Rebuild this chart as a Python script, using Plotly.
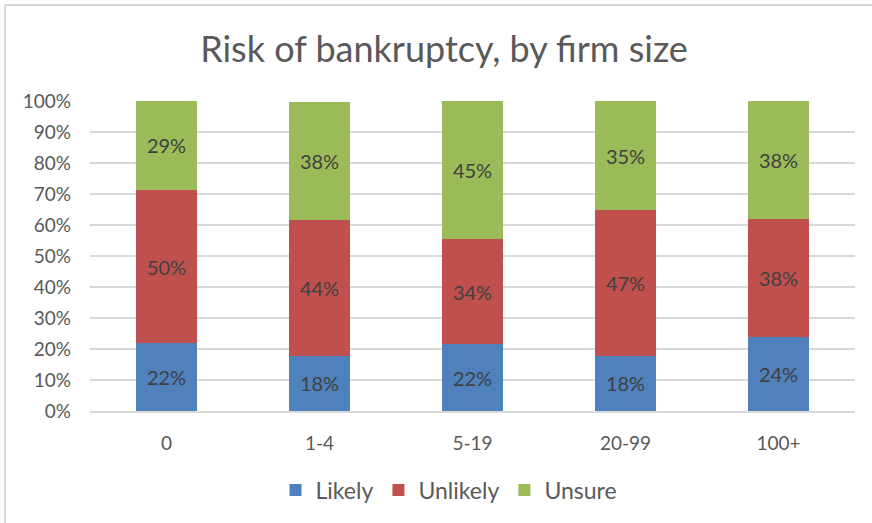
import plotly.graph_objects as go

categories = ["0", "1-4", "5-19", "20-99", "100+"]
likely = [21.8, 17.9, 21.6, 17.9, 23.8]
unlikely = [49.6, 43.6, 33.8, 46.9, 38.0]
unsure = [28.6, 38.1, 44.6, 35.2, 38.2]
tick_vals = [0, 10, 20, 30, 40, 50, 60, 70, 80, 90, 100]
tick_text = [f"{v}%" for v in tick_vals]

FONT = "Lato, 'Open Sans', sans-serif"
series = [("Likely", likely, "#4f81bd"),
          ("Unlikely", unlikely, "#c0504d"),
          ("Unsure", unsure, "#9bbb59")]

fig = go.Figure()
for name, vals, col in series:
    fig.add_trace(go.Bar(
        name=name, x=categories, y=vals, marker=dict(color=col, line=dict(width=0)),
        texttemplate="%{y:.0f}%", textposition="inside", insidetextanchor="middle",
        textfont=dict(color="#404040", size=20, family=FONT),
        cliponaxis=False,
    ))

W, H = 872, 523
L, R, T, B = 90, 17, 101, 112
pw, ph = W - L - R, H - T - B

fig.update_layout(
    width=W, height=H,
    barmode="stack", bargap=0.6,
    plot_bgcolor="white", paper_bgcolor="white",
    margin=dict(l=L, r=R, t=T, b=B),
    font=dict(family=FONT, color="#595959", size=19),
    title=dict(text="Risk of bankruptcy, by firm size", x=444 / W, xanchor="center",
               y=1 - 49 / H, yanchor="middle",
               font=dict(size=36, color="#595959", family=FONT)),
    legend=dict(orientation="h", x=(449 - L) / pw, xanchor="center", y=-(490 - 411) / ph,
                yanchor="middle", font=dict(size=23, color="#595959"),
                itemwidth=30, traceorder="normal"),
    xaxis=dict(showgrid=False, showline=True, linecolor="#d9d9d9", linewidth=2,
               ticks="", ticklabelstandoff=14, tickfont=dict(size=19, color="#595959")),
    yaxis=dict(range=[0, 100], tickvals=tick_vals, ticktext=tick_text,
               showgrid=True, gridcolor="#d9d9d9", gridwidth=2, zeroline=False,
               ticks="", ticklabelstandoff=18, tickfont=dict(size=19, color="#595959")),
    shapes=[
        dict(type="line", xref="paper", yref="paper",
             x0=(5 - L) / pw, x1=(W - L) / pw + 0.01, y0=(H - B - 5) / ph, y1=(H - B - 5) / ph,
             line=dict(color="#d9d9d9", width=2)),
        dict(type="line", xref="paper", yref="paper",
             x0=(5 - L) / pw, x1=(5 - L) / pw, y0=(H - B - 5) / ph, y1=-B / ph - 0.01,
             line=dict(color="#d9d9d9", width=2)),
    ],
)

fig.write_html("out.html", config={"displayModeBar": False},
               post_script="document.body.style.margin='0';")
